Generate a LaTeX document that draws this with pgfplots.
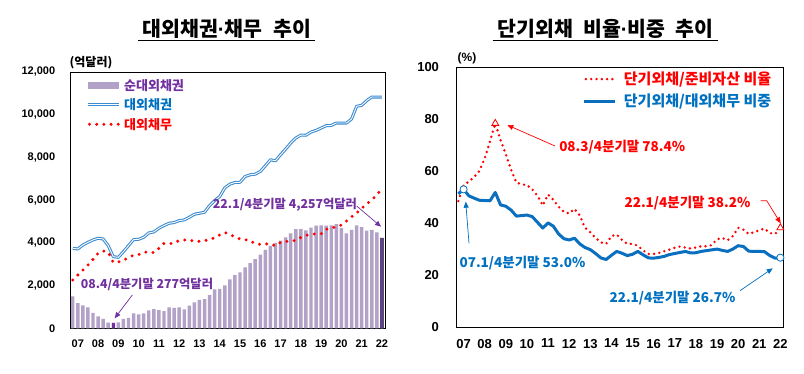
\documentclass[border=0pt]{standalone}
\usepackage{pgfplots}
\pgfplotsset{compat=1.18}
\usepackage{pgfplotstable}
\usepackage{fontspec}
\setmainfont{Noto Sans CJK KR}
\newfontfamily\arialfont{Liberation Sans}
\usetikzlibrary{arrows.meta}

\definecolor{barc}{HTML}{B3A2C7}
\definecolor{purp}{HTML}{7030A0}
\definecolor{darkbar}{HTML}{5C4680}
\definecolor{assetc}{HTML}{3A8AD0}
\definecolor{bluet}{HTML}{0070C0}
\definecolor{blueline}{HTML}{0B6FBF}
\definecolor{redc}{HTML}{FF0000}

\newcommand{\mdot}{{\arialfont\bfseries ·}}

\pgfplotsset{
  legline/.style={legend image code/.code={\draw[##1] (0pt,0pt) -- (31pt,0pt);}},
  legdot/.style={legend image code/.code={\draw[##1] (1.5pt,0pt) -- (31pt,0pt);}},
  legbar/.style={legend image code/.code={\fill[barc] (0pt,-3.3pt) rectangle (31pt,3.3pt);}},
}

\pgfplotstableread{
i net assets debt
0 1500 3751 2266
1 1190 3720 2500
2 1085 3907 2735
3 990 4032 2970
4 735 4142 3235
5 570 4220 3520
6 445 4189 3630
7 280 3876 3560
8 277 3360 3090
9 290 3329 3110
10 445 3595 3200
11 500 3876 3314
12 705 4157 3430
13 655 4173 3460
14 705 4267 3560
15 850 4470 3590
16 905 4517 3550
17 865 4689 3750
18 810 4814 3980
19 990 4923 3960
20 960 4955 4000
21 990 5049 4120
22 900 5080 4140
23 1070 5205 4140
24 1220 5345 4080
25 1335 5392 4080
26 1370 5439 4110
27 1565 5752 4160
28 1830 5986 4250
29 1850 6174 4380
30 2020 6580 4490
31 2297 6752 4410
32 2500 6830 4270
33 2630 6840 4190
34 2860 7112 4150
35 3063 7190 4110
36 3251 7221 3960
37 3455 7346 3940
38 3673 7612 3960
39 3865 7893 3950
40 4000 7846 3870
41 4110 8128 4030
42 4260 8393 4070
43 4455 8675 4090
44 4650 8909 4120
45 4650 9050 4260
46 4590 9040 4350
47 4715 9190 4420
48 4810 9268 4420
49 4830 9378 4430
50 4810 9487 4640
51 4820 9500 4690
52 4880 9612 4770
53 4700 9612 4840
54 4455 9612 5030
55 4615 9800 5220
56 4830 10394 5400
57 4740 10441 5620
58 4580 10660 5830
59 4610 10830 6010
60 4500 10830 6250
61 4257 10830 6550
}\leftdata

\pgfplotstableread{
i ratio share
0 48.5 51.3
1 54.5 53.0
2 56.0 50.5
3 57.8 49.6
4 60.1 48.8
5 65.0 48.7
6 71.5 48.6
7 78.4 51.8
8 72.0 47.0
9 66.5 46.5
10 60.5 45.0
11 55.6 42.7
12 54.9 42.9
13 54.7 43.1
14 53.0 42.5
15 50.5 40.3
16 46.8 38.1
17 51.0 40.1
18 49.0 38.8
19 46.3 35.8
20 44.3 34.0
21 43.7 33.5
22 45.5 34.2
23 43.0 32.0
24 38.2 30.6
25 36.5 29.8
26 34.3 28.3
27 32.6 26.6
28 32.0 26.0
29 35.0 27.6
30 35.6 29.1
31 33.5 28.4
32 32.0 27.5
33 32.0 28.0
34 31.3 29.1
35 29.5 27.8
36 28.1 26.6
37 28.1 26.5
38 28.5 26.8
39 29.2 27.2
40 29.8 27.9
41 30.5 28.3
42 31.0 28.7
43 30.6 29.1
44 30.2 28.5
45 30.6 28.6
46 31.1 29.1
47 31.1 29.4
48 31.5 29.7
49 33.8 30.0
50 34.3 29.5
51 33.4 29.1
52 35.0 30.0
53 38.2 31.3
54 37.5 31.0
55 35.8 29.2
56 36.5 29.1
57 37.3 29.1
58 37.9 29.0
59 36.2 27.5
60 35.8 26.5
61 38.2 26.7
}\rightdata

\begin{document}
\begin{tikzpicture}
\useasboundingbox (0pt,0pt) rectangle (804pt,374pt);
% titles
\node[font=\bfseries\fontsize{20.5}{23}\selectfont, inner sep=0pt] at (227pt,345pt) {대외채권\mdot 채무\hspace{0.55em}추이};
\draw[line width=1.3pt] (138pt,333.5pt) -- (315pt,333.5pt);
\node[font=\bfseries\fontsize{20.5}{23}\selectfont, inner sep=0pt] at (605.5pt,345pt) {단기외채\hspace{0.5em}비율\mdot 비중\hspace{0.5em}추이};
\draw[line width=1.3pt] (492.7pt,333.5pt) -- (718.3pt,333.5pt);
\node[font=\bfseries\fontsize{12}{14}\selectfont, inner sep=0pt] at (91pt,311pt) {(억달러)};
\node[font=\arialfont\bfseries\fontsize{12}{14}\selectfont, inner sep=0pt] at (467pt,316pt) {(\%)};

\begin{axis}[
  at={(70.7pt,45.5pt)}, anchor=south west,
  scale only axis, width=314.3pt, height=256.5pt,
  xmin=-0.4, xmax=61.6, ymin=0, ymax=12000,
  axis line style={black, line width=0.9pt},
  xtick={1,5,9,13,17,21,25,29,33,37,41,45,49,53,57,61},
  xticklabels={07,08,09,10,11,12,13,14,15,16,17,18,19,20,21,22},
  ytick={0,2000,4000,6000,8000,10000,12000},
  yticklabels={0,{2,000},{4,000},{6,000},{8,000},{10,000},{12,000}},
  major tick length=0pt,
  ticklabel style={font=\arialfont\bfseries\fontsize{11}{13}\selectfont},
  yticklabel style={xshift=-12pt},
  xticklabel style={yshift=-8pt},
  scaled y ticks=false,
  legend style={draw=none, fill=none, inner sep=0pt, row sep=5pt, column sep=2.5pt,
    at={(axis description cs:0.0496,0.977)}, anchor=north west,
    font=\bfseries\fontsize{13}{15}\selectfont, nodes={inner sep=1pt}},
  legend cell align=left,
]
\addplot[ybar, bar width=0.68, bar shift=0pt, fill=barc, draw=none, legbar]
  table[x=i,y=net] {\leftdata};
\addlegendentry{\textcolor{purp}{순대외채권}}
\addplot[ybar, bar width=0.68, bar shift=0pt, fill=purp, draw=none, forget plot] coordinates {(8,277)};
\addplot[ybar, bar width=0.68, bar shift=0pt, fill=darkbar, draw=none, forget plot] coordinates {(61,4257)};
\addplot[draw=assetc, double=white, double distance=0.9pt, line width=1.05pt, line join=round, no marks, legline]
  table[x=i,y=assets] {\leftdata};
\addlegendentry{\textcolor{bluet}{대외채권}}
\addplot[draw=redc, line width=3.3pt, line cap=round, dash pattern=on 0pt off 7.2pt, no marks, legdot]
  table[x=i,y=debt] {\leftdata};
\addlegendentry{\textcolor{redc}{대외채무}}
\end{axis}

\begin{axis}[
  at={(456pt,47pt)}, anchor=south west,
  scale only axis, width=327pt, height=259.7pt,
  xmin=-0.44, xmax=61.5, ymin=0, ymax=100,
  axis line style={black, line width=0.9pt},
  xtick={1,5,9,13,17,21,25,29,33,37,41,45,49,53,57,61},
  xticklabels={07,08,09,10,11,12,13,14,15,16,17,18,19,20,21,22},
  ytick={0,20,40,60,80,100},
  yticklabels={0,20,40,60,80,100},
  major tick length=0pt,
  ticklabel style={font=\arialfont\bfseries\fontsize{13}{15}\selectfont},
  yticklabel style={xshift=-13.5pt},
  xticklabel style={yshift=-8.5pt},
  legend style={draw=none, fill=none, inner sep=0pt, row sep=6pt, column sep=6pt,
    at={(axis description cs:0.3875,0.9865)}, anchor=north west,
    font=\bfseries\fontsize{15}{17}\selectfont, nodes={inner sep=1pt}},
  legend cell align=left,
]
\addplot[draw=redc, line width=2.7pt, line cap=round, dash pattern=on 0pt off 5.3pt, no marks, legdot]
  table[x=i,y=ratio] {\rightdata};
\addlegendentry{\textcolor{redc}{단기외채/준비자산 비율}}
\addplot[draw=blueline, line width=3pt, line join=round, no marks, legline]
  table[x=i,y=share] {\rightdata};
\addlegendentry{\textcolor{bluet}{단기외채/대외채무 비중}}
\addplot[only marks, mark=triangle*, mark size=4pt, mark options={draw=redc, fill=white, line width=0.8pt}, forget plot] coordinates {(7,78.4) (61,38.2)};
\addplot[only marks, mark=*, mark size=3.6pt, mark options={draw=bluet, fill=white, line width=0.8pt}, forget plot] coordinates {(1,53.0) (61,26.7)};
\end{axis}

% annotations
\node[text=purp, font=\bfseries\fontsize{12.3}{14}\selectfont, inner sep=0pt] at (147pt,89.7pt) {08.4/4분기말 277억달러};
\draw[purp, line width=0.7pt, -{Triangle[length=6pt,width=5pt]}] (132.3pt,79pt) -- (114.7pt,55.7pt);
\node[text=purp, font=\bfseries\fontsize{12.3}{14}\selectfont, inner sep=0pt] at (285pt,169pt) {22.1/4분기말 4,257억달러};
\draw[purp, line width=0.7pt, -{Triangle[length=6pt,width=5pt]}] (356.7pt,168pt) -- (381pt,147.3pt);
\node[text=redc, font=\bfseries\fontsize{13.5}{15}\selectfont, inner sep=0pt] at (622.2pt,226.7pt) {08.3/4분기말 78.4\%};
\draw[redc, line width=0.7pt, -{Triangle[length=6pt,width=5pt]}] (555pt,228pt) -- (507.3pt,249pt);
\node[text=redc, font=\bfseries\fontsize{13.5}{15}\selectfont, inner sep=0pt] at (687.5pt,171.3pt) {22.1/4분기말 38.2\%};
\draw[redc, line width=0.7pt, -{Triangle[length=6pt,width=5pt]}] (760.7pt,173.3pt) -- (766.7pt,173.3pt) -- (780.7pt,150.7pt);
\node[text=bluet, font=\bfseries\fontsize{13.5}{15}\selectfont, inner sep=0pt] at (522.5pt,111.3pt) {07.1/4분기말 53.0\%};
\draw[bluet, line width=0.7pt, -{Triangle[length=6pt,width=5pt]}] (469pt,130.7pt) -- (465.7pt,172.3pt);
\node[text=bluet, font=\bfseries\fontsize{13.5}{15}\selectfont, inner sep=0pt] at (672.5pt,75.7pt) {22.1/4분기말 26.7\%};
\draw[bluet, line width=0.7pt, -{Triangle[length=6pt,width=5pt]}] (740pt,83.3pt) -- (772.7pt,105.7pt);
\end{tikzpicture}
\end{document}
